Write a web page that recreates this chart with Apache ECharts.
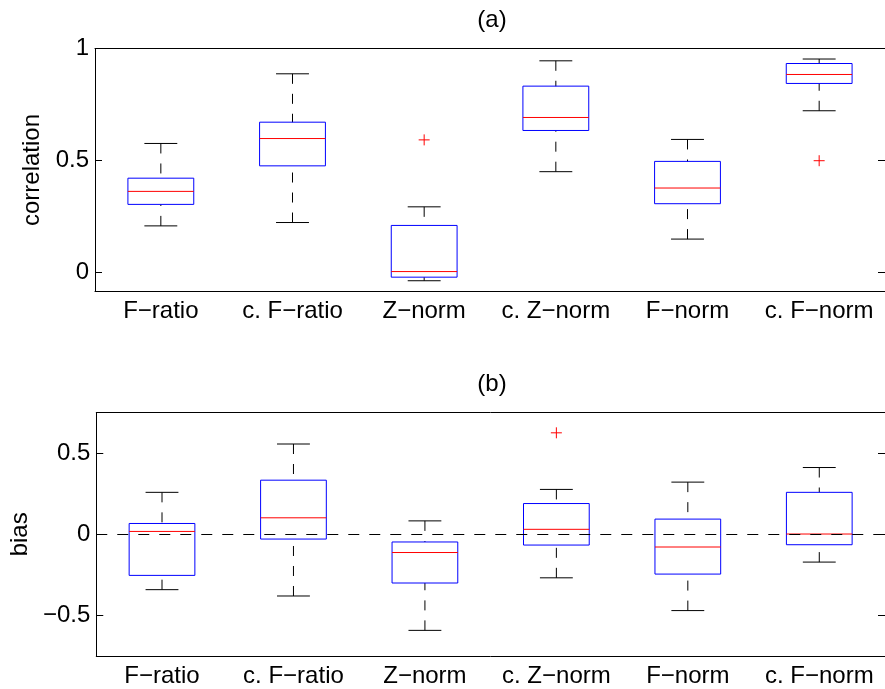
<!DOCTYPE html>
<html>
<head>
<meta charset="utf-8">
<script src="https://cdn.jsdelivr.net/npm/echarts@6/dist/echarts.min.js"></script>
<style>html,body{margin:0;padding:0;background:#fff;}#c{width:885px;height:689px;}</style>
</head>
<body>
<div id="c"></div>
<script>
// ---- data ----
const categories = ['F\u2212ratio', 'c. F\u2212ratio', 'Z\u2212norm', 'c. Z\u2212norm', 'F\u2212norm', 'c. F\u2212norm'];

// (a) correlation
const corrMin = [0.208, 0.223, -0.037, 0.450, 0.149, 0.722];
const corrQ1  = [0.304, 0.476, -0.021, 0.634, 0.307, 0.844];
const corrMed = [0.362, 0.598, 0.004, 0.692, 0.377, 0.884];
const corrQ3  = [0.421, 0.671, 0.210, 0.832, 0.496, 0.933];
const corrMax = [0.576, 0.887, 0.293, 0.945, 0.594, 0.953];
const corrOutlierCat = [2, 5];
const corrOutlierVal = [0.592, 0.499];

// (b) bias
const biasMin = [-0.341, -0.380, -0.592, -0.268, -0.470, -0.171];
const biasQ1  = [-0.253, -0.029, -0.300, -0.066, -0.245, -0.064];
const biasMed = [0.018, 0.102, -0.112, 0.031, -0.078, 0.002];
const biasQ3  = [0.067, 0.334, -0.047, 0.190, 0.094, 0.259];
const biasMax = [0.259, 0.557, 0.083, 0.277, 0.322, 0.412];
const biasOutlierCat = [3];
const biasOutlierVal = [0.626];

const corrTicks = [0, 0.5, 1];
const biasTicks = [-0.5, 0, 0.5];

// ---- build ----
const FONT = 'Liberation Sans, Arial, Helvetica, sans-serif';
const FS = 24;

function boxData(mn, q1, md, q3, mx) {
  return categories.map((c, i) => [i, mn[i], q1[i], md[i], q3[i], mx[i]]);
}
function outData(cats, vals) {
  return cats.map((c, i) => [c, vals[i]]);
}

function renderBox(params, api) {
  const i = api.value(0);
  const bw = api.size([1, 0])[0];
  const x = api.coord([i, 0])[0];
  const yMin = api.coord([i, api.value(1)])[1];
  const yQ1 = api.coord([i, api.value(2)])[1];
  const yMed = api.coord([i, api.value(3)])[1];
  const yQ3 = api.coord([i, api.value(4)])[1];
  const yMax = api.coord([i, api.value(5)])[1];
  const hb = bw * 0.25, hc = bw * 0.125;
  const dash = { stroke: '#000', lineWidth: 1, lineDash: [10, 10] };
  const solid = { stroke: '#000', lineWidth: 1 };
  return {
    type: 'group',
    children: [
      { type: 'line', shape: { x1: x, y1: yMax, x2: x, y2: yQ3 }, style: dash },
      { type: 'line', shape: { x1: x, y1: yMin, x2: x, y2: yQ1 }, style: dash },
      { type: 'line', shape: { x1: x - hc, y1: yMax, x2: x + hc, y2: yMax }, style: solid },
      { type: 'line', shape: { x1: x - hc, y1: yMin, x2: x + hc, y2: yMin }, style: solid },
      { type: 'rect', shape: { x: x - hb, y: yQ3, width: 2 * hb, height: yQ1 - yQ3 }, style: { fill: null, stroke: '#0000ff', lineWidth: 1 } },
      { type: 'line', shape: { x1: x - hb, y1: yMed, x2: x + hb, y2: yMed }, style: { stroke: '#ff0000', lineWidth: 1 } }
    ]
  };
}

function renderPlus(params, api) {
  const p = api.coord([api.value(0), api.value(1)]);
  const h = 5.5;
  const st = { stroke: '#ff0000', lineWidth: 1 };
  return {
    type: 'group',
    children: [
      { type: 'line', shape: { x1: p[0] - h, y1: p[1], x2: p[0] + h, y2: p[1] }, style: st },
      { type: 'line', shape: { x1: p[0], y1: p[1] - h, x2: p[0], y2: p[1] + h }, style: st }
    ]
  };
}

const axisLine = { show: true, onZero: false, lineStyle: { color: '#000', width: 1 } };
const txt = { color: '#000', fontFamily: FONT, fontSize: FS };
const fmt = v => String(v).replace('-', '\u2212');

function xAxes(gi) {
  return [
    { type: 'category', gridIndex: gi, position: 'bottom', data: categories, boundaryGap: true,
      axisLine: axisLine, axisTick: { inside: true, alignWithLabel: true, length: 7, lineStyle: { color: '#000' } },
      axisLabel: Object.assign({ margin: 8, interval: 0 }, txt), splitLine: { show: false } },
    { type: 'category', gridIndex: gi, position: 'top', data: categories, boundaryGap: true,
      axisLine: axisLine, axisTick: { inside: true, alignWithLabel: true, length: 7, lineStyle: { color: '#000' } },
      axisLabel: { show: false }, splitLine: { show: false } }
  ];
}
function yAxes(gi, mn, mx, ticks, name, gap) {
  return [
    { type: 'value', gridIndex: gi, position: 'left', min: mn, max: mx,
      name: name, nameLocation: 'middle', nameGap: gap, nameRotate: 90, nameTextStyle: txt,
      axisLine: axisLine, axisTick: { show: true, inside: true, length: 7, customValues: ticks, lineStyle: { color: '#000' } },
      axisLabel: Object.assign({ margin: 6, customValues: ticks, formatter: fmt }, txt), splitLine: { show: false } },
    { type: 'value', gridIndex: gi, position: 'right', min: mn, max: mx,
      axisLine: axisLine, axisTick: { show: true, inside: true, length: 7, customValues: ticks, lineStyle: { color: '#000' } },
      axisLabel: { show: false }, splitLine: { show: false } }
  ];
}

const option = {
  animation: false,
  backgroundColor: '#fff',
  textStyle: { fontFamily: FONT },
  grid: [
    { left: 95, top: 48.5, width: 796, height: 243 },
    { left: 95, top: 412.7, width: 796, height: 243.3 }
  ],
  graphic: [
    { type: 'text', x: 492, y: 20, style: { text: '(a)', fill: '#000', font: FS + 'px ' + FONT, textAlign: 'center', textVerticalAlign: 'middle' } },
    { type: 'text', x: 492, y: 384, style: { text: '(b)', fill: '#000', font: FS + 'px ' + FONT, textAlign: 'center', textVerticalAlign: 'middle' } }
  ],
  xAxis: xAxes(0).concat(xAxes(1)),
  yAxis: yAxes(0, -0.085, 1, corrTicks, 'correlation', 47).concat(yAxes(1, -0.75, 0.75, biasTicks, 'bias', 62)),
  series: [
    { type: 'custom', xAxisIndex: 0, yAxisIndex: 0, renderItem: renderBox, data: boxData(corrMin, corrQ1, corrMed, corrQ3, corrMax), encode: { x: 0, y: [1, 2, 3, 4, 5] }, z: 2, silent: true },
    { type: 'custom', xAxisIndex: 0, yAxisIndex: 0, renderItem: renderPlus, data: outData(corrOutlierCat, corrOutlierVal), encode: { x: 0, y: 1 }, z: 3, silent: true },
    { type: 'custom', xAxisIndex: 2, yAxisIndex: 2, renderItem: renderBox, data: boxData(biasMin, biasQ1, biasMed, biasQ3, biasMax), encode: { x: 0, y: [1, 2, 3, 4, 5] }, z: 2, silent: true },
    { type: 'custom', xAxisIndex: 2, yAxisIndex: 2, renderItem: renderPlus, data: outData(biasOutlierCat, biasOutlierVal), encode: { x: 0, y: 1 }, z: 3, silent: true },
    { type: 'line', xAxisIndex: 2, yAxisIndex: 2, data: [], z: 5, silent: true,
      markLine: { silent: true, symbol: ['none', 'none'], label: { show: false },
        lineStyle: { color: '#000', width: 1, type: [11, 10] }, data: [{ yAxis: 0 }] } }
  ]
};

const chart = echarts.init(document.getElementById('c'), null, { renderer: 'canvas' });
chart.setOption(option);
</script>
</body>
</html>
